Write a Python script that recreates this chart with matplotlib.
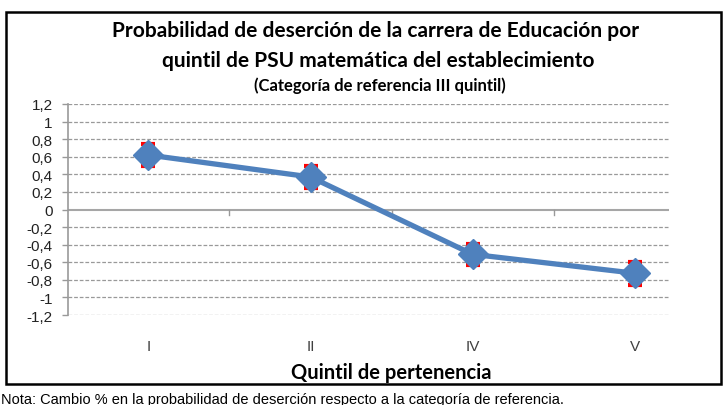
import matplotlib.pyplot as plt
from matplotlib.patches import Rectangle

# Data
quintiles = ['I', 'II', 'IV', 'V']
cambio = [0.62, 0.37, -0.51, -0.725]
error = [0.13, 0.12, 0.12, 0.13]
y_ticks = [1.2, 1.0, 0.8, 0.6, 0.4, 0.2, 0.0, -0.2, -0.4, -0.6, -0.8, -1.0, -1.2]

title_font = 'Lato'
blue = '#4F81BD'
grey = '#999999'

fig = plt.figure(figsize=(7.28, 4.06), dpi=100)
ax = fig.add_axes([68 / 728, 1 - 316 / 406, (669 - 68) / 728, (316 - 105) / 406])

x = list(range(len(quintiles)))

# Dashed grid and solid zero line
for v in y_ticks:
    if v == 0:
        continue
    ax.axhline(v, color=grey, lw=0.9, ls=(0, (3, 1.5)), zorder=0)
ax.axhline(0, color='#a6a6a6', lw=1.5, zorder=1)
for xb in [0.5, 1.5, 2.5]:
    ax.plot([xb, xb], [0, -0.065], color=grey, lw=1, zorder=1, clip_on=False)

# Error bars behind, then the line with diamonds
ax.errorbar(x, cambio, yerr=error, fmt='none', ecolor='#ff0000', elinewidth=2,
            capsize=4.7, capthick=3, zorder=2)
ax.plot(x, cambio, color=blue, lw=3.8, marker='D', ms=15, mfc=blue, mec=blue,
        zorder=3, solid_capstyle='round')

ax.set_xlim(-0.495, 3.21)
ax.set_ylim(-1.2, 1.2)
ax.set_yticks(y_ticks)
ax.set_yticklabels([('%g' % v).replace('.', ',') for v in y_ticks],
                   fontsize=11, family='Liberation Sans', color='#222222')
ax.tick_params(axis='y', length=4, width=1, color=grey, pad=7)
ax.set_xticks(x)
ax.set_xticklabels(quintiles, fontsize=11, family='Liberation Sans', color='#404040')
ax.tick_params(axis='x', length=0, pad=17)

for s in ['top', 'right', 'bottom']:
    ax.spines[s].set_visible(False)
ax.spines['left'].set_color(grey)
ax.spines['left'].set_linewidth(1.2)

# Titles
fig.text(376 / 728, 1 - 31 / 406, 'Probabilidad de deserción de la carrera de Educación por',
         ha='center', va='center', fontsize=15, family=title_font, weight='bold')
fig.text(378 / 728, 1 - 61 / 406, 'quintil de PSU matemática del establecimiento',
         ha='center', va='center', fontsize=15, family=title_font, weight='bold')
fig.text(380 / 728, 1 - 86 / 406, '(Categoría de referencia III quintil)',
         ha='center', va='center', fontsize=12, family=title_font, weight='bold')
fig.text(391 / 728, 1 - 373 / 406, 'Quintil de pertenencia',
         ha='center', va='center', fontsize=14.5, family=title_font, weight='bold')

# Chart frame
fig.patches.append(Rectangle((6 / 728, 1 - 385 / 406), (721 - 6) / 728, (385 - 13) / 406,
                             transform=fig.transFigure, fill=False, edgecolor='black',
                             lw=1.8, zorder=0))

fig.text(1 / 728, 1 - 404 / 406,
         'Nota: Cambio % en la probabilidad de deserción respecto a la categoría de referencia.',
         ha='left', va='baseline', fontsize=10.5, family='Liberation Sans')

fig.savefig('out.png', dpi=100)
